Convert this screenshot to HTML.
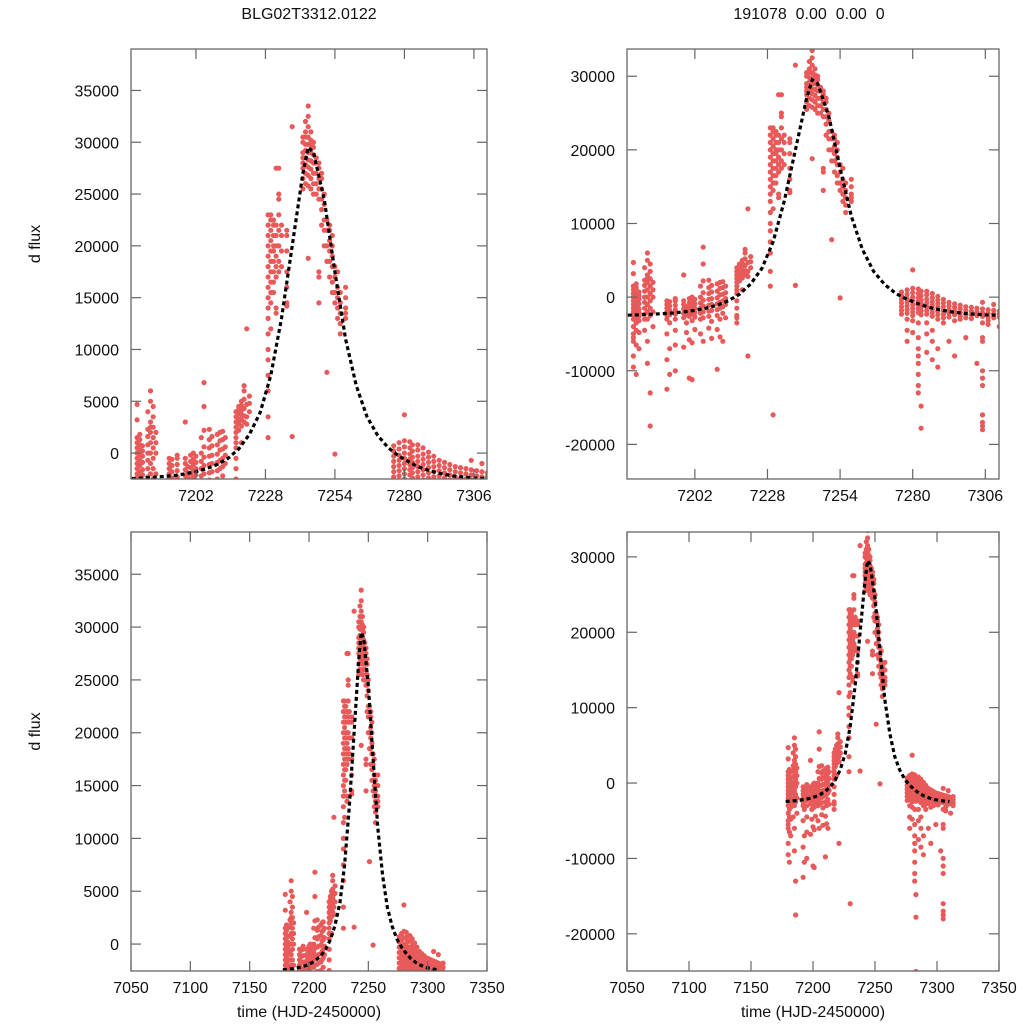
<!DOCTYPE html>
<html><head><meta charset="utf-8"><style>
html,body{margin:0;background:#fff;overflow:hidden;width:1024px;height:1024px}
svg{display:block;font-family:"Liberation Sans",sans-serif}
</style></head><body>
<svg id="chart" width="1024" height="1024" viewBox="0 0 1024 1024"></svg>
<script>
const obsTimes=[7180,7181,7182,7184,7185,7186,7187,7192,7193,7195,7198,7199,7200,7201,7202,7204,7205,7207,7208,7210,7211,7212,7213,7217,7218,7219,7220,7221,7222,7229,7230,7231,7232,7233,7234,7236,7238,7242,7243,7244,7245,7246,7247,7248,7249,7250,7251,7252,7253,7254,7255,7256,7258,7276,7278,7280,7282,7283,7285,7287,7289,7291,7293,7295,7297,7299,7301,7303,7305,7307,7309,7311,7313];
const obsFluxes=[
[-2400,-2000,-1500,-1000,-500,0,500,1000,1500,-3000,-4000,-5000,-5500,-6000,-8000,-9500,4700,3200],
[-2200,-1800,-1200,-700,-200,300,800,1300,1800,-3500,-4500,-2800,-6500,-10500],
[-2600,-2100,-1600,-900,-300,200,700,-3200,-4800,-7000],
[-2300,-1500,-700,0,800,1600,2300,-3000,-4500,4000],
[-2000,-1000,0,1000,2000,2500,3000,5000,6000,-3000,-6000,-9000],
[-1500,-500,500,1500,2500,4500,3500,-2500,-13000,-17500],
[-2000,0,1000,2000,-4000],
[-2500,-2000,-1500,-1000,-500,-3000,-5000,-8500,-12500],
[-2400,-1800,-1200,-600,-3500,-7000,-10500],
[-2300,-1700,-1100,-500,-200,-3000,-4500,-6500,-10000],
[-2200,-1600,-1000,-500,3000,-2800,-6800],
[-2400,-1900,-1300,-3500,-4800],
[-2000,-1400,-800,-200,-2600,-5800,-11000],
[-2300,-1700,-1100,-600,0,-3200,-6200,-11200],
[-2100,-1500,-900,-300,-2700,-4400],
[-2200,-1500,-800,0,1500,-3000,-5000],
[-2000,-1200,-400,600,2200,4500,6800,-2800,-6000],
[-1900,-1100,-300,500,1300,2300,-2600,-4200],
[-1800,-1000,-200,700,1600,-3300,-5600],
[-1700,-900,-100,800,1800,-2500,-4400,-9800],
[-1500,-700,300,1200,2000,-3000,-5400],
[-1300,-500,400,1300,2100,-2200,-6000],
[-1000,-200,600,1500,-2800],
[-2500,-1500,-500,500,1000,1500,2000,2500,3000,3500,4000,-2800,-3500],
[2200,2800,3300,3800,4200,4500,3000],
[2600,3200,3700,4100,4600,5000,1000],
[3000,3600,4300,5200,6000,6500],
[2800,3500,4700,12000,-8000],
[4000,5500,4800],
[1500,3500,6000,7500,9000,10000,11500,13000,14000,15000,16000,17000,18000,19000,20000,21000,22000,23000],
[12000,14500,15500,16500,17500,18500,19500,20500,21500,22500,23000,-16000],
[15500,16500,17500,18500,19500,20000,21000,22000,22500],
[17000,18000,19000,20000,21000,22000,27500,14000,13500],
[17500,18500,20000,21500,23000,24500,25000,27500],
[18000,19500,21000,22000],
[14500,14200,16000,17500,19500,21500,21000],
[31500,1600],
[25500,26500,27500,28000,28500,29000,30000,30500],
[26000,27000,27800,28500,29200,29800,30500,31000,32000],
[25800,26800,27600,28300,29000,29800,30500,31500,32500,33500,18800],
[25500,26500,27400,28200,29000,29700,30200,31000],
[25000,26000,27000,28000,28800,29500,30000],
[25000,26000,27000,28000,28500],
[24500,25500,26500,27500,28000,17500,17000,14500],
[22000,23500,24500,25500,26500,27000],
[20000,21500,22500,24000,25000],
[18500,20000,21500,22500,7800],
[17000,18500,19500,20500,21500,22000],
[15500,16500,18000,19000,20000,21000],
[14500,15500,17000,18000,-100],
[13000,14000,15000,16000,17500],
[11500,12500,13500,14500,15500],
[13000,14000,15000,16000,13500],
[700,200,-300,-800,-1300,-1800,-2300],
[1000,400,-200,-700,-1200,-1700,-2200,-3000,-4500,-6000],
[1200,600,0,-500,-1000,-1500,-2000,-2500,3700,-3200,-4800],
[1100,500,-100,-600,-1100,-1600,-2100,-3500,-5500,-7000,-8000,-9000,-10500,-12000,-13000],
[800,200,-400,-900,-1400,-1900,-2400,-14800,-17800,-25000],
[800,300,-300,-800,-1300,-1800,-2300,-3500,-5000,-7500],
[500,-100,-600,-1100,-1600,-2100,-2600,-4500,-6000,-8500],
[100,-400,-900,-1400,-1900,-2400,-3000,-7000,-9500],
[-300,-800,-1300,-1800,-2300,-2800,-3500],
[-700,-1200,-1700,-2200,-2700,-6000],
[-900,-1400,-1900,-2400,-3200,-8000],
[-1100,-1600,-2100,-2600,-3000],
[-1300,-1800,-2300,-2800,-5500],
[-1400,-1900,-2400,-2900],
[-1500,-2000,-2500,-9000],
[-700,-1600,-2100,-2600,-3500,-5500,-6000,-10000,-11000,-12000,-16000,-17000,-17500,-18000],
[-1700,-2200,-2700,-3200,-3700],
[-1000,-1800,-2300,-2800],
[-1900,-2300,-2700,-4000],
[-1800,-2200,-2600,-3000]
];
const modelTimes=[7178,7182,7186,7190,7194,7198,7202,7206,7210,7214,7218,7222,7226,7230,7234,7238,7242,7244,7246,7250,7254,7258,7262,7266,7270,7274,7278,7282,7286,7290,7294,7298,7302,7306,7310];
const modelFlux=[-2450,-2400,-2330,-2250,-2150,-2000,-1800,-1500,-1100,-500,400,1800,3900,7500,13000,20000,27000,29500,29000,24500,17500,11000,6500,3500,1700,500,-300,-900,-1400,-1750,-2000,-2200,-2300,-2400,-2450];
const zoomXTicks=[7202,7228,7254,7280,7306];
const fullXTicks=[7050,7100,7150,7200,7250,7300,7350];
const posYTicks=[0,5000,10000,15000,20000,25000,30000,35000];
const wideYTicks=[-20000,-10000,0,10000,20000,30000];

const NS='http://www.w3.org/2000/svg';
const svg=document.getElementById('chart');
function mk(tag,attrs,parent){const e=document.createElementNS(NS,tag);for(const k in attrs)e.setAttribute(k,attrs[k]);(parent||svg).appendChild(e);return e;}

const panels=[
 {name:'panel-top-left',L:131,R:487,T:49,B:479,x0:7177.7,x1:7310.9,y0:-2500,y1:39000,xt:zoomXTicks,yt:posYTicks,xlab:false,ylab:true},
 {name:'panel-top-right',L:627,R:999,T:49,B:479,x0:7177.7,x1:7310.9,y0:-24700,y1:33700,xt:zoomXTicks,yt:wideYTicks,xlab:false,ylab:false},
 {name:'panel-bottom-left',L:131,R:487,T:532,B:971,x0:7050,x1:7350,y0:-2550,y1:39000,xt:fullXTicks,yt:posYTicks,xlab:true,ylab:true},
 {name:'panel-bottom-right',L:627,R:999,T:532,B:971,x0:7050,x1:7350,y0:-24930,y1:33300,xt:fullXTicks,yt:wideYTicks,xlab:true,ylab:false}
];
let ci=0;
panels.forEach(p=>{
 const g=mk('g',{});
 
 
 const sx=t=>p.L+(t-p.x0)/(p.x1-p.x0)*(p.R-p.L);
 const sy=f=>p.B-(f-p.y0)/(p.y1-p.y0)*(p.B-p.T);
 ci++;
 const cp=mk('clipPath',{id:'clip'+ci},g);
 mk('rect',{x:p.L,y:p.T,width:p.R-p.L,height:p.B-p.T},cp);
 const dots=mk('g',{'clip-path':'url(#clip'+ci+')',fill:'#e85a5a'},g);
 
 
 obsTimes.forEach((t,i)=>{obsFluxes[i].forEach(f=>{
   const x=sx(t),y=sy(f);
   if(x<p.L-3||x>p.R+3||y<p.T-3||y>p.B+3)return;
   const c=mk('circle',{cx:x.toFixed(1),cy:y.toFixed(1),r:2.6},dots);
   
   
 });});
 let d='';
 modelTimes.forEach((t,i)=>{d+=(i?'L':'M')+sx(t).toFixed(1)+','+sy(modelFlux[i]).toFixed(1);});
 const ml=mk('path',{d:d,fill:'none',stroke:'#000','stroke-width':3.2,'stroke-dasharray':'4,3','clip-path':'url(#clip'+ci+')'},g);
 
 
 const fr=mk('rect',{x:p.L,y:p.T,width:p.R-p.L,height:p.B-p.T,fill:'none',stroke:'#666','stroke-width':1.3},g);
 
 
 p.xt.forEach(t=>{const x=sx(t);
   mk('line',{x1:x,x2:x,y1:p.B,y2:p.B-10,stroke:'#666','stroke-width':1.2},g);
   mk('line',{x1:x,x2:x,y1:p.T,y2:p.T+10,stroke:'#666','stroke-width':1.2},g);
   const tx=mk('text',{x:x,y:p.B+22,'text-anchor':'middle','font-size':16,fill:'#111'},g);
   tx.textContent=t;
   
   
 });
 p.yt.forEach(f=>{const y=sy(f);
   mk('line',{x1:p.L,x2:p.L+10,y1:y,y2:y,stroke:'#666','stroke-width':1.2},g);
   mk('line',{x1:p.R,x2:p.R-10,y1:y,y2:y,stroke:'#666','stroke-width':1.2},g);
   const tx=mk('text',{x:p.L-12,y:y+6,'text-anchor':'end','font-size':16,fill:'#111'},g);
   tx.textContent=f;
   
   
 });
 const cx=(p.L+p.R)/2;
 if(p.xlab){const tx=mk('text',{x:cx,y:1017,'text-anchor':'middle','font-size':16,fill:'#111'},g);tx.textContent='time (HJD-2450000)';
   
   }
 if(p.ylab){const cy=(p.T+p.B)/2-20;const tx=mk('text',{x:40,y:cy,'text-anchor':'middle','font-size':16,fill:'#111',transform:'rotate(-90 40 '+cy+')'},g);tx.textContent='d flux';
   
   }
});
const t1=mk('text',{x:309,y:19,'text-anchor':'middle','font-size':16,fill:'#111'});
t1.textContent='BLG02T3312.0122';


const t2=mk('text',{x:809,y:19,'text-anchor':'middle','font-size':16,fill:'#111',style:'white-space:pre'});
t2.textContent='191078  0.00  0.00  0';


</script>
</body></html>
